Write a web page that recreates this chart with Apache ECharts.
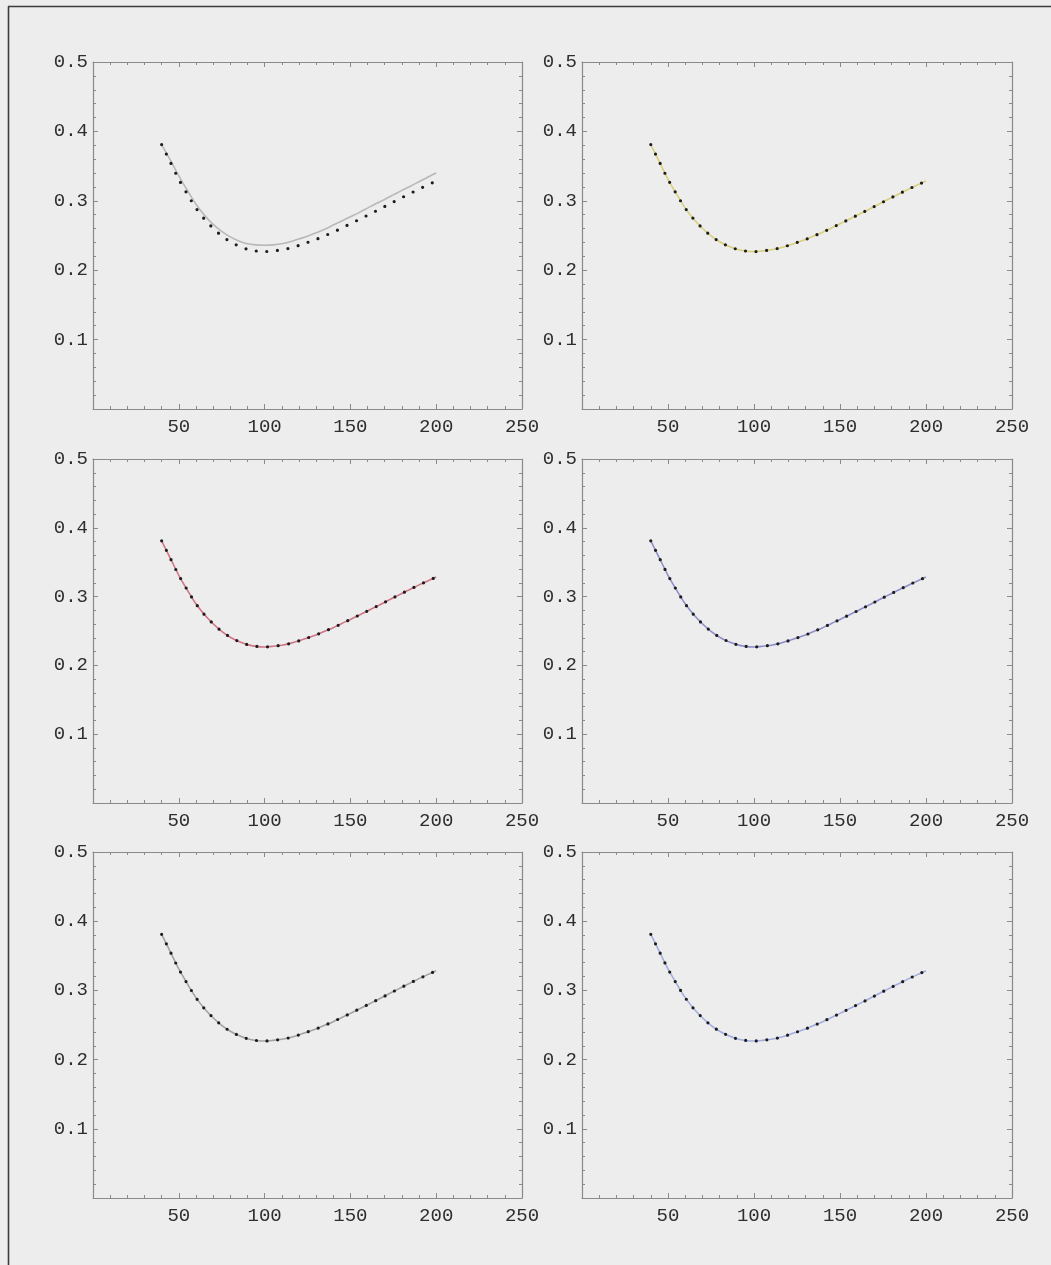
<!DOCTYPE html>
<html>
<head>
<meta charset="utf-8">
<script src="https://cdn.jsdelivr.net/npm/echarts@6/dist/echarts.min.js"></script>
<style>
  html, body { margin: 0; padding: 0; background: #ededed; }
  #chart { width: 1051px; height: 1265px; }
</style>
</head>
<body>
<div id="chart"></div>
<script>
// Sample positions along the horizontal axis
const xValues = [40, 45, 50, 55, 60, 65, 70, 75, 80, 85, 90, 95, 100, 105, 110, 115, 120,
                 125, 130, 135, 140, 145, 150, 155, 160, 165, 170, 175, 180, 185, 190, 195, 200];

// Measured curve (dotted in every panel)
const measured = [0.381, 0.356, 0.331, 0.3095, 0.2895, 0.2735, 0.2605, 0.2495, 0.241, 0.2348, 0.2302,
                  0.2277, 0.2268, 0.2278, 0.2294, 0.232, 0.2357, 0.240, 0.2443, 0.2496, 0.2548,
                  0.2609, 0.2668, 0.273, 0.2792, 0.2854, 0.2918, 0.2983, 0.3046, 0.3108, 0.317,
                  0.3228, 0.3284];

// First model: sits slightly above the measured curve
const modelA = [0.381, 0.359, 0.336, 0.315, 0.295, 0.279, 0.266, 0.256, 0.248, 0.242, 0.238,
                0.2365, 0.236, 0.2365, 0.238, 0.241, 0.245, 0.249, 0.254, 0.259, 0.265,
                0.271, 0.277, 0.283, 0.2895, 0.296, 0.302, 0.3085, 0.315, 0.321, 0.3275,
                0.334, 0.340];

// Remaining models lie on top of the measured curve
const modelB = measured.slice();
const modelC = measured.slice();
const modelD = measured.slice();
const modelE = measured.slice();
const modelF = measured.slice();

const xTickLabels = [50, 100, 150, 200, 250];
const yTickLabels = ['0.1', '0.2', '0.3', '0.4', '0.5'];

const panelModels = [modelA, modelB, modelC, modelD, modelE, modelF];
const panelColors = ['#b8b8b8', '#d8d07a', '#d27585', '#8f8fcc', '#a2a2a8', '#a3aee0'];

// Panel rectangles (left, top, width, height)
const cols = [[93, 429], [582, 430]];
const rows = [[62, 347], [459, 344], [852, 346]];

const frameColor = '#8a8a8a';
const labelFont = {
  fontFamily: "'Liberation Mono', 'DejaVu Sans Mono', monospace",
  fontSize: 19,
  color: '#2e2e2e'
};

const grids = [], xAxes = [], yAxes = [], series = [];

panelModels.forEach((model, i) => {
  const r = rows[Math.floor(i / 2)], c = cols[i % 2];
  grids.push({ left: c[0], top: r[0], width: c[1], height: r[1], containLabel: false });

  const tickCommon = {
    axisLine: { show: true, onZero: false, lineStyle: { color: frameColor, width: 1.2 } },
    axisTick: { show: true, inside: true, length: 5, lineStyle: { color: frameColor } },
    minorTick: { show: true, splitNumber: 5, length: 3, lineStyle: { color: frameColor } },
    splitLine: { show: false }
  };

  // bottom x axis with labels
  xAxes.push(Object.assign({
    type: 'value', gridIndex: i, position: 'bottom', min: 0, max: 250, interval: 50,
    axisLabel: Object.assign({
      margin: 8,
      formatter: v => xTickLabels.includes(Math.round(v)) ? String(Math.round(v)) : ''
    }, labelFont)
  }, tickCommon));
  // top x axis (frame + ticks only)
  xAxes.push(Object.assign({
    type: 'value', gridIndex: i, position: 'top', min: 0, max: 250, interval: 50,
    axisLabel: { show: false }
  }, tickCommon));
  // left y axis with labels
  yAxes.push(Object.assign({
    type: 'value', gridIndex: i, position: 'left', min: 0, max: 0.5, interval: 0.1,
    axisLabel: Object.assign({
      margin: 5,
      formatter: v => yTickLabels.includes(v.toFixed(1)) ? v.toFixed(1) : ''
    }, labelFont)
  }, tickCommon));
  // right y axis (frame + ticks only)
  yAxes.push(Object.assign({
    type: 'value', gridIndex: i, position: 'right', min: 0, max: 0.5, interval: 0.1,
    axisLabel: { show: false }
  }, tickCommon));

  const xi = 2 * i, yi = 2 * i;
  // model curve
  series.push({
    type: 'line', xAxisIndex: xi, yAxisIndex: yi, smooth: 0.3, symbol: 'none',
    data: xValues.map((x, k) => [x, model[k]]),
    lineStyle: { color: panelColors[i], width: 1.6 },
    silent: true, animation: false, z: 2
  });
  // measured curve drawn as a dotted line
  series.push({
    type: 'line', xAxisIndex: xi, yAxisIndex: yi, smooth: 0.3, symbol: 'none',
    data: xValues.map((x, k) => [x, measured[k]]),
    lineStyle: { color: '#1c1c1c', width: 3.2, type: [0, 10.6], cap: 'round' },
    silent: true, animation: false, z: 3
  });
});

const chart = echarts.init(document.getElementById('chart'), null, { renderer: 'canvas' });
chart.setOption({
  backgroundColor: '#ededed',
  animation: false,
  grid: grids,
  xAxis: xAxes,
  yAxis: yAxes,
  series: series,
  graphic: [
    { type: 'line', shape: { x1: 8.5, y1: 6.5, x2: 8.5, y2: 1265 }, style: { stroke: '#3c3c3c', lineWidth: 1.6 } },
    { type: 'line', shape: { x1: 8, y1: 6.5, x2: 1051, y2: 6.5 }, style: { stroke: '#3c3c3c', lineWidth: 1.6 } }
  ]
});
</script>
</body>
</html>
